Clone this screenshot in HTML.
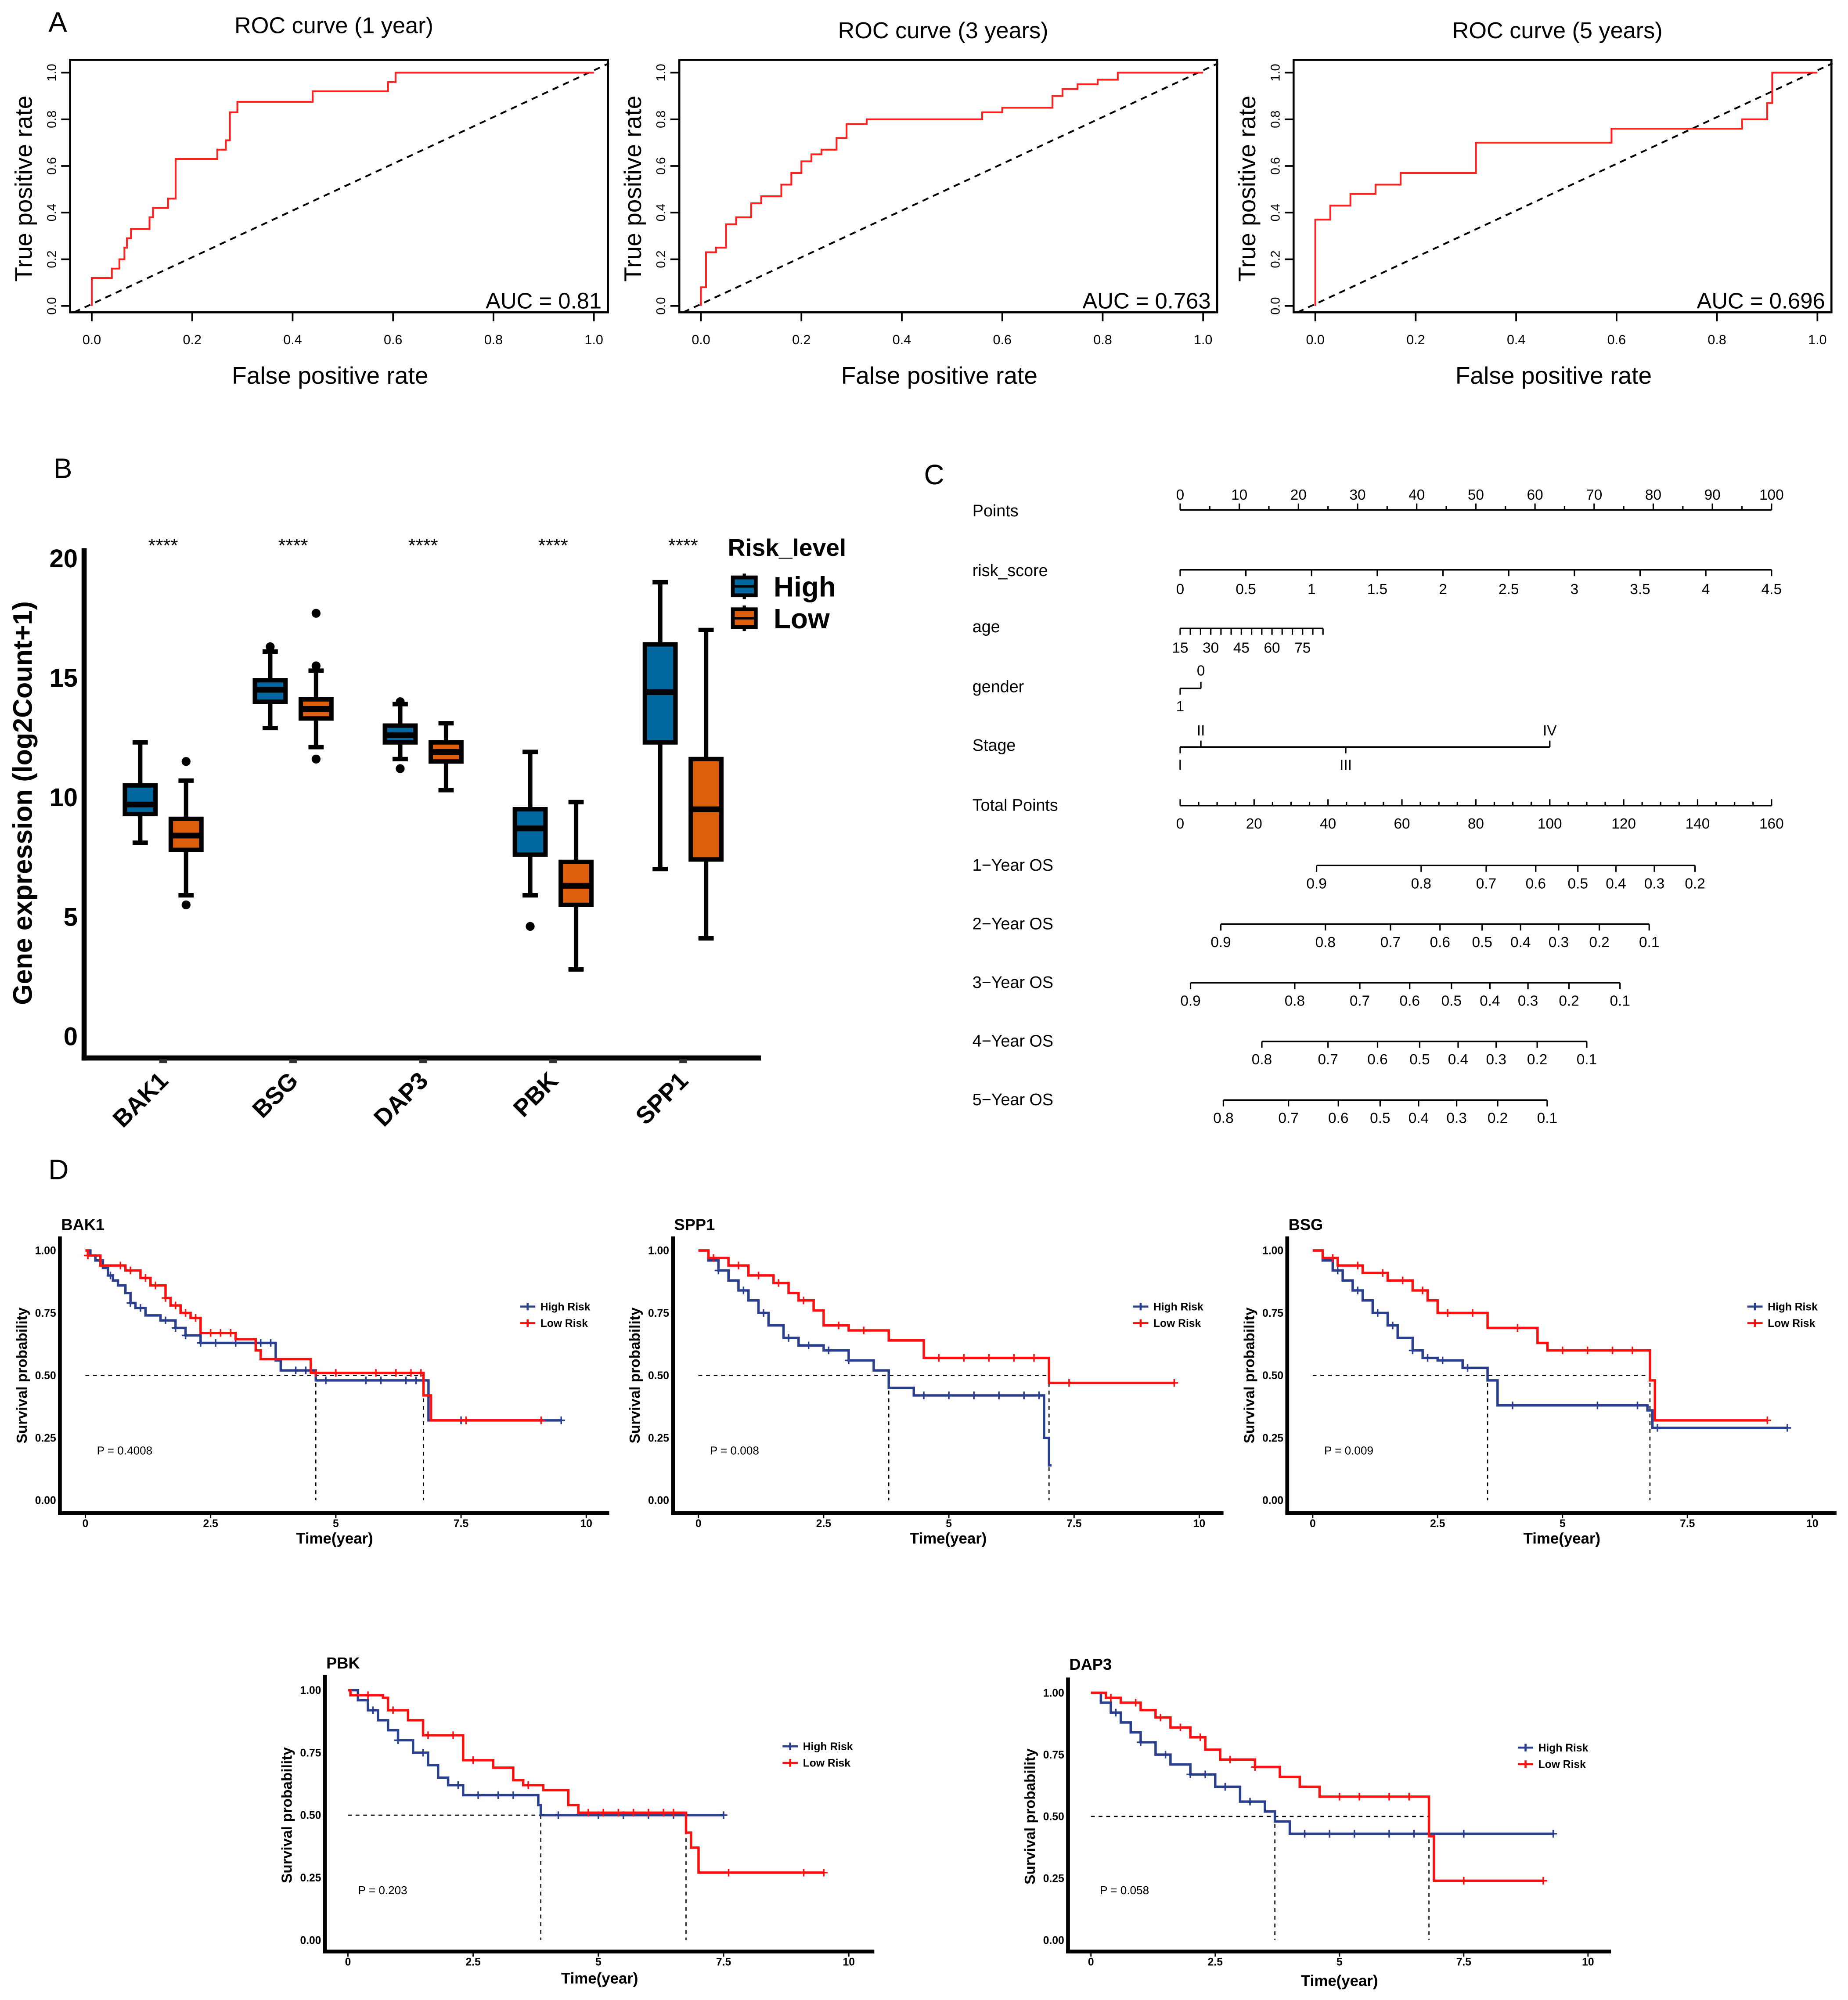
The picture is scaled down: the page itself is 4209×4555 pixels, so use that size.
<!DOCTYPE html>
<html><head><meta charset="utf-8"><style>
html,body{margin:0;padding:0;background:#fff;}
svg{display:block;font-family:"Liberation Sans",Arial,sans-serif;}
</style></head><body>
<svg id="fig" xmlns="http://www.w3.org/2000/svg" width="4209" height="4555" viewBox="0 0 1450 1569" preserveAspectRatio="none"></svg>
<script>
// ---------- DATA ----------
const roc1Fpr=[0,0,0.04,0.04,0.055,0.055,0.065,0.065,0.07,0.07,0.078,0.078,0.115,0.115,0.122,0.122,0.152,0.152,0.167,0.167,0.25,0.25,0.267,0.267,0.275,0.275,0.29,0.29,0.44,0.44,0.59,0.59,0.605,0.605,1];
const roc1Tpr=[0,0.12,0.12,0.16,0.16,0.2,0.2,0.25,0.25,0.29,0.29,0.33,0.33,0.38,0.38,0.42,0.42,0.46,0.46,0.63,0.63,0.67,0.67,0.71,0.71,0.83,0.83,0.875,0.875,0.92,0.92,0.96,0.96,1,1];
const roc2Fpr=[0,0,0.01,0.01,0.03,0.03,0.05,0.05,0.07,0.07,0.1,0.1,0.12,0.12,0.16,0.16,0.18,0.18,0.2,0.2,0.22,0.22,0.24,0.24,0.27,0.27,0.29,0.29,0.33,0.33,0.56,0.56,0.6,0.6,0.7,0.7,0.72,0.72,0.75,0.75,0.79,0.79,0.83,0.83,1];
const roc2Tpr=[0,0.08,0.08,0.23,0.23,0.25,0.25,0.35,0.35,0.38,0.38,0.44,0.44,0.47,0.47,0.52,0.52,0.57,0.57,0.62,0.62,0.65,0.65,0.67,0.67,0.72,0.72,0.78,0.78,0.8,0.8,0.83,0.83,0.85,0.85,0.9,0.9,0.93,0.93,0.95,0.95,0.97,0.97,1,1];
const roc3Fpr=[0,0,0.03,0.03,0.07,0.07,0.12,0.12,0.17,0.17,0.32,0.32,0.59,0.59,0.85,0.85,0.9,0.9,0.91,0.91,1];
const roc3Tpr=[0,0.37,0.37,0.43,0.43,0.48,0.48,0.52,0.52,0.57,0.57,0.7,0.7,0.76,0.76,0.8,0.8,0.87,0.87,1,1];
const rocTicks=["0.0","0.2","0.4","0.6","0.8","1.0"];
const rocAuc=["AUC = 0.81","AUC = 0.763","AUC = 0.696"];

const genes=["BAK1","BSG","DAP3","PBK","SPP1"];
const hiWlo=[8.1,12.9,11.6,5.9,7.0], hiQ1=[9.3,14.0,12.3,7.6,12.3], hiMed=[9.7,14.5,12.6,8.7,14.4], hiQ3=[10.5,14.9,13.0,9.5,16.4], hiWhi=[12.3,16.1,13.9,11.9,19.0];
const loWlo=[5.9,12.1,10.3,2.8,4.1], loQ1=[7.8,13.3,11.5,5.5,7.4], loMed=[8.4,13.7,11.9,6.3,9.5], loQ3=[9.1,14.1,12.3,7.3,11.6], loWhi=[10.7,15.3,13.1,9.8,17.0];
const hiOut=[[],[16.3],[11.2,14.0],[4.6],[]];
const loOut=[[11.5,5.5],[17.7,15.5,11.6],[],[],[]];
const boxYTicks=[0,5,10,15,20];

const pointsTicks=[0,10,20,30,40,50,60,70,80,90,100];
const riskTicks=["0","0.5","1","1.5","2","2.5","3","3.5","4","4.5"];
const ageLabels=[15,30,45,60,75];
const ageMax=85, agePtsPerYear=0.345;
const genderPts=[0,3.5], genderLab=["1","0"];
const stageLab=["I","II","III","IV"], stagePts=[0,3.5,28,62.5];
const totalTicks=[0,20,40,60,80,100,120,140,160];
const osNames=["1\u2212Year OS","2\u2212Year OS","3\u2212Year OS","4\u2212Year OS","5\u2212Year OS"];
const osLabels=[["0.9","0.8","0.7","0.6","0.5","0.4","0.3","0.2"],["0.9","0.8","0.7","0.6","0.5","0.4","0.3","0.2","0.1"],["0.9","0.8","0.7","0.6","0.5","0.4","0.3","0.2","0.1"],["0.8","0.7","0.6","0.5","0.4","0.3","0.2","0.1"],["0.8","0.7","0.6","0.5","0.4","0.3","0.2","0.1"]];
const osTotal=[[36.9,65.2,82.8,96.2,107.6,117.9,128.3,139.3],[11.0,39.3,56.9,70.3,81.7,92.1,102.4,113.4,126.9],[2.8,31.0,48.6,62.1,73.4,83.8,94.1,105.2,119.0],[22.1,40.0,53.4,64.8,75.2,85.5,96.6,110.0],[11.7,29.3,42.8,54.1,64.5,74.8,85.9,99.3]];

const kmNames=["BAK1","SPP1","BSG","PBK","DAP3"];
const kmP=["P = 0.4008","P = 0.008","P = 0.009","P = 0.203","P = 0.058"];
const hiT=[[0,0.1,0.2,0.35,0.45,0.55,0.65,0.8,0.9,1.0,1.2,1.5,1.8,2.0,2.3,3.8,3.9,4.6,6.85],[0,0.2,0.4,0.6,0.8,1.0,1.2,1.4,1.7,2.0,2.5,3.0,3.5,3.8,4.3,6.9,7.0],[0,0.2,0.4,0.6,0.8,1.0,1.2,1.5,1.7,2.0,2.2,2.5,3.0,3.5,3.7,6.7,6.8],[0,0.2,0.4,0.6,0.8,1.0,1.3,1.6,1.8,2.0,2.3,3.8,3.85],[0,0.2,0.4,0.6,0.8,1.0,1.3,1.6,2.0,2.5,3.0,3.5,3.7,4.0]];
const hiS=[[1,0.98,0.96,0.93,0.9,0.88,0.86,0.83,0.79,0.77,0.74,0.72,0.69,0.66,0.63,0.56,0.52,0.48,0.32],[1,0.96,0.92,0.88,0.84,0.8,0.75,0.7,0.65,0.62,0.6,0.56,0.52,0.45,0.42,0.25,0.14],[1,0.96,0.92,0.88,0.84,0.8,0.75,0.7,0.65,0.6,0.57,0.56,0.53,0.48,0.38,0.36,0.29],[1,0.96,0.92,0.88,0.84,0.8,0.75,0.7,0.65,0.62,0.58,0.54,0.50],[1,0.96,0.92,0.88,0.84,0.8,0.75,0.71,0.67,0.62,0.56,0.52,0.48,0.43]];
const hiEnd=[9.5,7.05,9.5,7.5,9.3];
const hiC=[[0.5,0.9,1.1,1.6,1.8,2.0,2.3,2.6,3.0,3.5,3.7,4.2,4.4,4.8,5.6,5.9,6.4,6.6,7.5,9.5],[0.4,0.9,1.3,1.8,2.2,2.6,3.0,4.5,5.0,5.5,6.0,6.5,6.8],[0.5,0.9,1.3,1.6,2.0,2.3,2.6,3.1,4.0,5.7,6.5,6.9,9.5],[0.5,1.0,1.5,2.2,2.6,3.0,3.3,4.2,5.0,5.5,6.0,6.5,7.5],[0.5,1.0,1.5,2.0,2.3,2.7,3.2,4.3,4.8,5.3,6.0,6.5,7.5,9.3]];
const loT=[[0,0.05,0.3,0.8,1.1,1.3,1.6,1.7,1.9,2.1,2.3,3.0,3.4,3.5,4.5,6.75,6.9],[0,0.2,0.6,1.0,1.5,1.8,2.0,2.3,2.5,3.0,3.8,4.5,7.0],[0,0.2,0.5,1.0,1.5,2.0,2.3,2.5,3.5,4.5,4.7,6.75,6.85],[0,0.05,0.7,0.8,1.2,1.5,2.3,2.9,3.3,3.5,3.9,4.4,4.6,6.75,6.85,7.0],[0,0.3,0.6,1.0,1.3,1.6,2.0,2.3,2.6,3.3,3.8,4.2,4.6,6.8,6.9]];
const loS=[[1,0.98,0.94,0.92,0.89,0.86,0.81,0.78,0.75,0.73,0.67,0.645,0.6,0.565,0.51,0.42,0.32],[1,0.97,0.94,0.9,0.87,0.83,0.8,0.76,0.7,0.68,0.64,0.57,0.47],[1,0.97,0.94,0.91,0.88,0.84,0.8,0.75,0.69,0.63,0.6,0.48,0.32],[1,0.98,0.97,0.92,0.88,0.82,0.72,0.69,0.64,0.62,0.6,0.54,0.51,0.43,0.37,0.27],[1,0.98,0.96,0.93,0.9,0.86,0.82,0.77,0.73,0.7,0.66,0.62,0.58,0.42,0.24]];
const loEnd=[9.1,9.5,9.1,9.5,9.1];
const loC=[[0.05,0.7,0.9,1.2,1.4,1.6,1.8,2.0,2.2,2.5,2.7,2.9,4.6,5.0,5.8,6.2,6.5,6.7,7.6,9.1],[0.3,0.8,1.2,1.6,2.1,2.8,3.3,4.8,5.3,5.8,6.3,6.7,7.4,9.5],[0.4,0.9,1.4,1.8,2.2,2.7,3.2,4.1,5.0,5.5,6.0,6.4,9.1],[0.4,0.9,1.6,2.1,2.5,3.6,4.8,5.1,5.4,5.7,6.0,6.3,6.5,7.6,9.1,9.5],[0.4,0.9,1.4,1.8,2.2,2.8,3.3,5.0,5.4,6.0,6.4,7.5,9.1]];
const kmXTicks=["0","2.5","5","7.5","10"];
const kmYTicks=["0.00","0.25","0.50","0.75","1.00"];

// ---------- HELPERS ----------
const NS="http://www.w3.org/2000/svg";
const svg=document.getElementById('fig');
function mk(tag,attrs,parent){const e=document.createElementNS(NS,tag);for(const k in attrs)e.setAttribute(k,attrs[k]);(parent||svg).appendChild(e);return e;}
function txt(s,attrs,parent){const e=mk('text',attrs,parent);e.textContent=s;return e;}
function grp(parent){return mk('g',{},parent);}

// ---------- PANEL LETTERS ----------
[["A",38,25],["B",42,375],["C",725,380],["D",38,925]].forEach(p=>{
  const t=txt(p[0],{x:p[1],y:p[2],'font-size':22});
  
  
});

// ---------- PANEL A : ROC ----------
const rocData=[[roc1Fpr,roc1Tpr],[roc2Fpr,roc2Tpr],[roc3Fpr,roc3Tpr]];
const rocX0=[72,550,1032], rocTitles=["ROC curve (1 year)","ROC curve (3 years)","ROC curve (5 years)"], rocTitleY=[26,30,30];
rocData.forEach((d,i)=>{
  const g=grp();
  
  
  const x0=rocX0[i], W=394;
  const X=v=>x0+v*W, Y=v=>240-v*183;
  const fr=mk('rect',{x:x0-17,y:47,width:W+28,height:198,fill:'none',stroke:'#000','stroke-width':1.6},g);
  
  
  const tt=txt(rocTitles[i],{x:x0+190,y:rocTitleY[i],'font-size':18,'text-anchor':'middle'},g);
  
  
  rocTicks.forEach((s,k)=>{
    const v=k*0.2;
    const l=mk('line',{x1:X(v),x2:X(v),y1:245,y2:252,stroke:'#000','stroke-width':1.3},g);
    
    
    const tl=txt(s,{x:X(v),y:270,'font-size':10.5,'text-anchor':'middle'},g);
    
    
    const l2=mk('line',{x1:x0-17,x2:x0-24,y1:Y(v),y2:Y(v),stroke:'#000','stroke-width':1.3},g);
    
    
    const yl=txt(s,{x:0,y:0,'font-size':10,'text-anchor':'middle',transform:`translate(${x0-28},${Y(v)}) rotate(-90)`},g);
    
    
  });
  const xt=txt("False positive rate",{x:x0+187,y:301,'font-size':19,'text-anchor':'middle'},g);
  
  
  const yt=txt("True positive rate",{x:0,y:0,'font-size':19,'text-anchor':'middle',transform:`translate(${x0-47},148) rotate(-90)`},g);
  
  
  const dg=mk('line',{x1:X(-0.035),y1:Y(-0.027),x2:X(1.03),y2:Y(1.04),stroke:'#000','stroke-width':1.4,'stroke-dasharray':'5,4'},g);
  
  
  const pts=d[0].map((f,k)=>X(f)+','+Y(d[1][k])).join(' ');
  const pl=mk('polyline',{points:pts,fill:'none',stroke:'#ff2020','stroke-width':1.4},g);
  
  
  const au=txt(rocAuc[i],{x:x0+400,y:242,'font-size':17.5,'text-anchor':'end'},g);
  
  
});

// ---------- PANEL B : BOXPLOT ----------
(function(){
  const g=grp();
  
  
  const YB=v=>813-v*18.75;
  const catX=k=>128+k*102;
  const hiCol='#00679f', loCol='#dd5e0c';
  const ax=mk('line',{x1:66,x2:66,y1:430,y2:832,stroke:'#000','stroke-width':4},g);
  
  
  const bx=mk('line',{x1:64,x2:597,y1:830,y2:830,stroke:'#000','stroke-width':4},g);
  
  
  boxYTicks.forEach(v=>{
    const t=txt(String(v),{x:61,y:YB(v)+7,'font-size':20,'font-weight':'bold','text-anchor':'end'},g);
    
    
  });
  const yt=txt("Gene expression (log2Count+1)",{x:0,y:0,'font-size':21,'font-weight':'bold','text-anchor':'middle',transform:'translate(25,630) rotate(-90)'},g);
  
  
  function drawBox(cx,wl,q1,md,q3,wh,outs,col,nm){
    const bg=grp(g);
    
    
    const w=mk('line',{x1:cx,x2:cx,y1:YB(wh),y2:YB(wl),stroke:'#000','stroke-width':3.5},bg);
    
    
    [wl,wh].forEach(v=>{
      const c=mk('line',{x1:cx-6,x2:cx+6,y1:YB(v),y2:YB(v),stroke:'#000','stroke-width':3.5},bg);
      
      
    });
    const r=mk('rect',{x:cx-12,y:YB(q3),width:24,height:YB(q1)-YB(q3),fill:col,stroke:'#000','stroke-width':3.5},bg);
    
    
    const m=mk('line',{x1:cx-12,x2:cx+12,y1:YB(md),y2:YB(md),stroke:'#000','stroke-width':4.5},bg);
    
    
    outs.forEach(v=>{
      const o=mk('circle',{cx:cx,cy:YB(v),r:3.5,fill:'#000'},bg);
      
      
    });
  }
  genes.forEach((gname,k)=>{
    const cx=catX(k);
    drawBox(cx-18,hiWlo[k],hiQ1[k],hiMed[k],hiQ3[k],hiWhi[k],hiOut[k],hiCol,'box-'+gname.toLowerCase()+'-high');
    drawBox(cx+18,loWlo[k],loQ1[k],loMed[k],loQ3[k],loWhi[k],loOut[k],loCol,'box-'+gname.toLowerCase()+'-low');
    const st=txt("****",{x:cx,y:433,'font-size':15,'text-anchor':'middle'},g);
    
    
    const tk=mk('rect',{x:cx-3,y:831,width:6,height:3,fill:'#333'},g);
    
    
    const tl=txt(gname,{x:0,y:0,'font-size':19,'font-weight':'bold','text-anchor':'end',transform:`translate(${cx+5},${849}) rotate(-45)`},g);
    
    
  });
  const lt=txt("Risk_level",{x:571,y:436,'font-size':19,'font-weight':'bold'},g);
  
  
  [["High",hiCol,460],["Low",loCol,485]].forEach(e=>{
    const lg=grp(g);
    
    
    mk('line',{x1:584,x2:584,y1:e[2]-10,y2:e[2]+10,stroke:'#000','stroke-width':2.5},lg);
    mk('rect',{x:575,y:e[2]-7,width:18,height:14,fill:e[1],stroke:'#000','stroke-width':3},lg);
    mk('line',{x1:575,x2:593,y1:e[2],y2:e[2],stroke:'#000','stroke-width':2},lg);
    txt(e[0],{x:607,y:e[2]+8,'font-size':22,'font-weight':'bold'},lg);
  });
})();

// ---------- PANEL C : NOMOGRAM ----------
(function(){
  const g=grp();
  
  
  const PX=p=>926+p*4.64;
  const TX=p=>926+p*464/160;
  const fs=11.5;
  function label(s,y){const t=txt(s,{x:763,y:y+5,'font-size':13},g);}
  function hline(x1,x2,y,nm){const l=mk('line',{x1:x1,x2:x2,y1:y,y2:y,stroke:'#000','stroke-width':1.2},g);}
  function tick(x,y,dir,len){const l=mk('line',{x1:x,x2:x,y1:y,y2:y+dir*len,stroke:'#000','stroke-width':1.1},g);}
  function tl(s,x,y){const t=txt(s,{x:x,y:y,'font-size':fs,'text-anchor':'middle'},g);}
  label("Points",400);hline(PX(0),PX(100),400,'points-axis');
  for(let p=0;p<=100;p+=5)tick(PX(p),400,-1,p%10===0?5:3);
  pointsTicks.forEach(p=>tl(String(p),PX(p),392));
  label("risk_score",447);hline(PX(0),PX(100),447,'risk-score-axis');
  riskTicks.forEach((s,k)=>{const x=PX(k*0.5*100/4.5);tick(x,447,1,5);tl(s,x,466);});
  label("age",491);
  const ageX=a=>PX((a-15)*agePtsPerYear);
  hline(ageX(15),ageX(ageMax),493,'age-axis');
  for(let a=15;a<=ageMax;a+=5)tick(ageX(a),493,1,5);
  ageLabels.forEach(a=>tl(String(a),ageX(a),512));
  label("gender",538);hline(PX(genderPts[0]),PX(genderPts[1]),540,'gender-axis');
  tick(PX(genderPts[0]),540,1,5);tick(PX(genderPts[1]),540,-1,5);
  tl(genderLab[0],PX(genderPts[0]),558);tl(genderLab[1],PX(genderPts[1]),530);
  label("Stage",584);hline(PX(stagePts[0]),PX(stagePts[3]),586,'stage-axis');
  stagePts.forEach((p,k)=>{const up=(k%2===1);tick(PX(p),586,up?-1:1,5);tl(stageLab[k],PX(p),up?577:604);});
  label("Total Points",631);hline(TX(0),TX(160),632,'total-points-axis');
  for(let p=0;p<=160;p+=5)tick(TX(p),632,-1,p%20===0?5:3);
  totalTicks.forEach(p=>tl(String(p),TX(p),650));
  const osY=[679,725,771,817,863];
  osNames.forEach((n,r)=>{
    label(n,osY[r]-1);
    const tp=osTotal[r];
    hline(TX(tp[0]),TX(tp[tp.length-1]),osY[r],'os-axis-'+(r+1));
    tp.forEach((p,k)=>{tick(TX(p),osY[r],1,5);tl(osLabels[r][k],TX(p),osY[r]+18);});
  });
})();

// ---------- PANEL D : KAPLAN-MEIER ----------
const kmLayout=[
 {ax:47,x0:67,x10:460,y1:981,y0:1177,top:970,bot:1187,right:478,ty:965,leg:[408,1025],p:[76,1141],xt:1211},
 {ax:528,x0:548,x10:941,y1:981,y0:1177,top:970,bot:1187,right:960,ty:965,leg:[889,1025],p:[557,1141],xt:1211},
 {ax:1010,x0:1030,x10:1422,y1:981,y0:1177,top:970,bot:1187,right:1441,ty:965,leg:[1371,1025],p:[1039,1141],xt:1211},
 {ax:255,x0:273,x10:666,y1:1326,y0:1522,top:1314,bot:1531,right:686,ty:1309,leg:[614,1370],p:[281,1486],xt:1556},
 {ax:838,x0:856,x10:1246,y1:1328,y0:1522,top:1316,bot:1531,right:1264,ty:1310,leg:[1191,1371],p:[863,1486],xt:1558}
];
function stepAt(T,S,t){let s=1;for(let k=0;k<T.length;k++){if(T[k]<=t)s=S[k];}return s;}
function median(T,S){for(let k=0;k<T.length;k++)if(S[k]<=0.5)return T[k];return null;}
kmNames.forEach((nm,i)=>{
  const L=kmLayout[i];
  const g=grp();
  
  
  const X=t=>L.x0+t*(L.x10-L.x0)/10, Y=s=>L.y0-s*(L.y0-L.y1);
  const ya=mk('line',{x1:L.ax,x2:L.ax,y1:L.top,y2:L.bot+1.5,stroke:'#000','stroke-width':3},g);
  
  
  const xa=mk('line',{x1:L.ax-1.5,x2:L.right,y1:L.bot,y2:L.bot,stroke:'#000','stroke-width':3},g);
  
  
  const ti=txt(nm,{x:L.ax+1,y:L.ty,'font-size':12.5,'font-weight':'bold'},g);
  
  
  kmYTicks.forEach((s,k)=>{
    const y=Y(k*0.25);
    const t=txt(s,{x:L.ax-3,y:y+3,'font-size':8.5,'font-weight':'bold','text-anchor':'end'},g);
    
    
  });
  kmXTicks.forEach((s,k)=>{
    const x=X(k*2.5);
    const tk=mk('line',{x1:x,x2:x,y1:L.bot,y2:L.bot+4,stroke:'#000','stroke-width':1},g);
    
    
    const t=txt(s,{x:x,y:L.bot+11,'font-size':8.5,'font-weight':'bold','text-anchor':'middle'},g);
    
    
  });
  const xt=txt("Time(year)",{x:(L.ax+L.right)/2,y:L.xt,'font-size':12,'font-weight':'bold','text-anchor':'middle'},g);
  
  
  const yt=txt("Survival probability",{x:0,y:0,'font-size':11.5,'font-weight':'bold','text-anchor':'middle',transform:`translate(${L.ax-26},${(Y(0)+Y(1))/2}) rotate(-90)`},g);
  
  
  const m1=median(hiT[i],hiS[i]), m2=median(loT[i],loS[i]);
  const mx=Math.max(m1||0,m2||0);
  const hl=mk('line',{x1:X(0),x2:X(mx),y1:Y(0.5),y2:Y(0.5),stroke:'#000','stroke-width':0.9,'stroke-dasharray':'3,3'},g);
  
  
  [m1,m2].forEach(m=>{if(m===null)return;
    const vl=mk('line',{x1:X(m),x2:X(m),y1:Y(0.5),y2:Y(0),stroke:'#000','stroke-width':0.9,'stroke-dasharray':'3,3'},g);
    
    
  });
  function curve(T,S,end,C,col,nm){
    const cg=grp(g);
    
    
    let d='M'+X(T[0])+','+Y(S[0]);
    for(let k=1;k<T.length;k++){d+=' H'+X(T[k])+' V'+Y(S[k]);}
    d+=' H'+X(end);
    const p=mk('path',{d:d,fill:'none',stroke:col,'stroke-width':1.9},cg);
    
    
    C.forEach(c=>{
      const s=stepAt(T,S,c), x=X(c), y=Y(s);
      const cm=mk('path',{d:`M${x-3},${y} H${x+3} M${x},${y-3} V${y+3}`,stroke:col,'stroke-width':1.2},cg);
      
      
    });
  }
  curve(hiT[i],hiS[i],hiEnd[i],hiC[i],'#2b3f8f','curve-high-risk');
  curve(loT[i],loS[i],loEnd[i],loC[i],'#ff1010','curve-low-risk');
  const pv=txt(kmP[i],{x:L.p[0],y:L.p[1],'font-size':9}, g);
  
  
  [["High Risk",'#2b3f8f',0],["Low Risk",'#ff1010',13]].forEach(e=>{
    const lg=grp(g);
    
    
    const y=L.leg[1]+e[2];
    mk('path',{d:`M${L.leg[0]},${y} H${L.leg[0]+12} M${L.leg[0]+6},${y-3} V${y+3}`,stroke:e[1],'stroke-width':1.6},lg);
    txt(e[0],{x:L.leg[0]+16,y:y+3,'font-size':8.5,'font-weight':'bold'},lg);
  });
});
</script>
</body></html>
